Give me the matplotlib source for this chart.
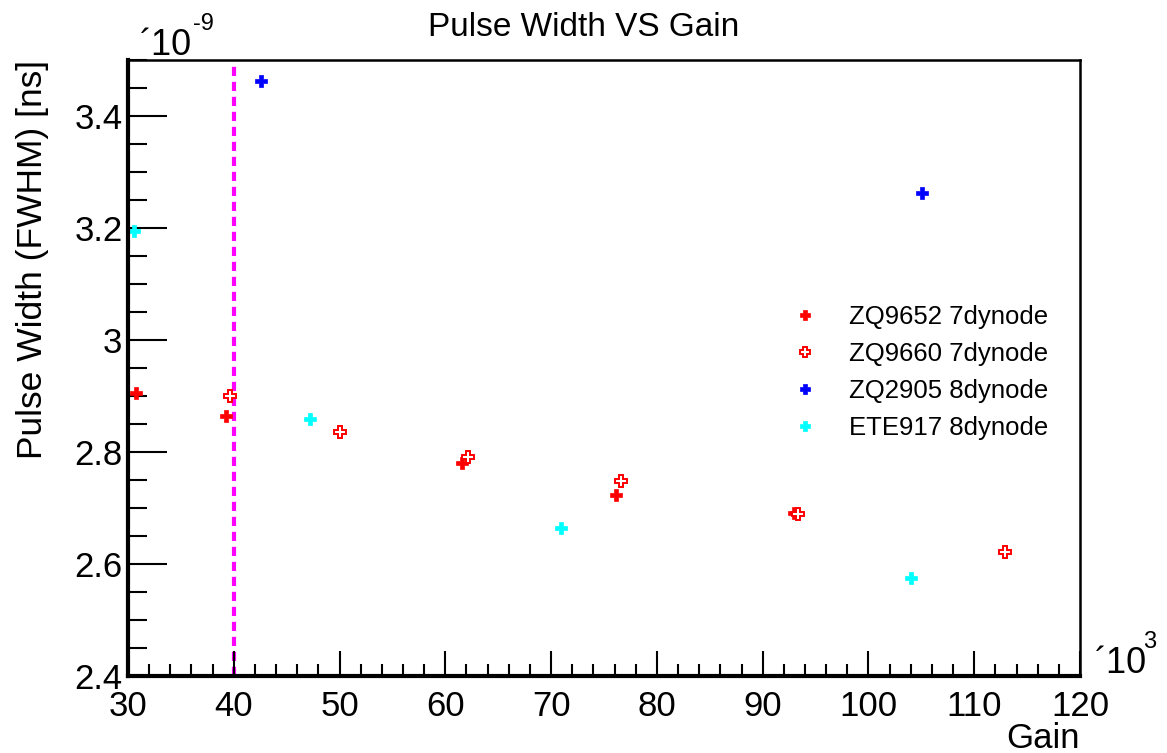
import matplotlib
matplotlib.use("Agg")
import matplotlib.pyplot as plt
from matplotlib.ticker import MultipleLocator, FixedLocator, FixedFormatter

plt.rcParams['font.family'] = ['Liberation Sans', 'DejaVu Sans']

# Gain in units of 10^3, pulse width in units of 10^-9 s
zq9652_gain = [30.8, 39.3, 61.6, 76.1, 93.0]
zq9652_width = [2.905, 2.864, 2.780, 2.723, 2.691]

zq9660_gain = [39.6, 50.0, 62.1, 76.6, 93.3, 112.9]
zq9660_width = [2.900, 2.836, 2.791, 2.748, 2.689, 2.621]

zq2905_gain = [42.6, 105.1]
zq2905_width = [3.463, 3.262]

ete917_gain = [30.6, 47.2, 70.9, 104.0]
ete917_width = [3.195, 2.859, 2.664, 2.575]

series_labels = ["ZQ9652 7dynode", "ZQ9660 7dynode", "ZQ2905 8dynode", "ETE917 8dynode"]
gain_cut = 40

xticks = [30, 40, 50, 60, 70, 80, 90, 100, 110, 120]
yticks = [2.4, 2.6, 2.8, 3.0, 3.2, 3.4]
ytick_labels = ["2.4", "2.6", "2.8", "3", "3.2", "3.4"]

W, H = 1167, 753
fig = plt.figure(figsize=(W / 100, H / 100), dpi=100)
ax = fig.add_axes([128 / W, 1 - 676 / H, 952 / W, 616 / H])

ms = 8
ax.plot(zq9652_gain, zq9652_width, 'P', color='#ff0000', ms=ms, mew=0.5,
        linestyle='none', label=series_labels[0])
ax.plot(zq9660_gain, zq9660_width, 'P', mfc='white', mec='#ff0000', ms=ms + 1,
        mew=1.4, linestyle='none', label=series_labels[1])
ax.plot(zq2905_gain, zq2905_width, 'P', color='#0000ff', ms=ms, mew=0.5,
        linestyle='none', label=series_labels[2])
ax.plot(ete917_gain, ete917_width, 'P', color='#00ffff', ms=ms, mew=0.5,
        linestyle='none', label=series_labels[3])

ax.axvline(gain_cut, color='#ff00ff', lw=3, linestyle=(0, (2.2, 1.4)), zorder=1)

ax.set_xlim(30, 120)
ax.set_ylim(2.4, 3.5)

ax.xaxis.set_major_locator(FixedLocator(xticks))
ax.xaxis.set_minor_locator(MultipleLocator(2))
ax.yaxis.set_major_locator(FixedLocator(yticks))
ax.yaxis.set_major_formatter(FixedFormatter(ytick_labels))
ax.yaxis.set_minor_locator(MultipleLocator(0.05))

ax.tick_params(axis='both', which='both', direction='in', top=False, right=False,
               color='black', labelsize=25)
ax.tick_params(axis='y', which='major', length=28, width=1.5, pad=4)
ax.tick_params(axis='y', which='minor', length=14, width=1.5)
ax.tick_params(axis='x', which='major', length=18, width=1.5, pad=10)
ax.tick_params(axis='x', which='minor', length=9, width=1.5)

for side in ('left', 'bottom'):
    ax.spines[side].set_linewidth(3)
for side in ('top', 'right'):
    ax.spines[side].set_linewidth(1.8)

fig.text(0.5, 1 - 27 / H, "Pulse Width VS Gain", ha='center', va='center', fontsize=24)

fig.text(1080 / W, 1 - 738 / H, "Gain", ha='right', va='center', fontsize=25)
fig.text(33 / W, 1 - 60 / H, "Pulse Width (FWHM) [ns]", ha='center', va='top',
         rotation=90, fontsize=25.5)

# axis multipliers
fig.text(140 / W, 1 - 55 / H, "\u00b410", ha='left', va='baseline', fontsize=26)
fig.text(193 / W, 1 - 30 / H, "-9", ha='left', va='baseline', fontsize=17)
fig.text(1095 / W, 1 - 673 / H, "\u00b410", ha='left', va='baseline', fontsize=26)
fig.text(1143 / W, 1 - 648 / H, "3", ha='left', va='baseline', fontsize=17)

ax.legend(loc='upper left', bbox_to_anchor=(790 / W, 1 - 305 / H),
          bbox_transform=fig.transFigure, frameon=False, fontsize=18.5,
          handlelength=1.2, handletextpad=1.1, labelspacing=0.5,
          borderpad=0, borderaxespad=0, markerscale=0.85)

fig.savefig("out.png", dpi=100, facecolor='white')
